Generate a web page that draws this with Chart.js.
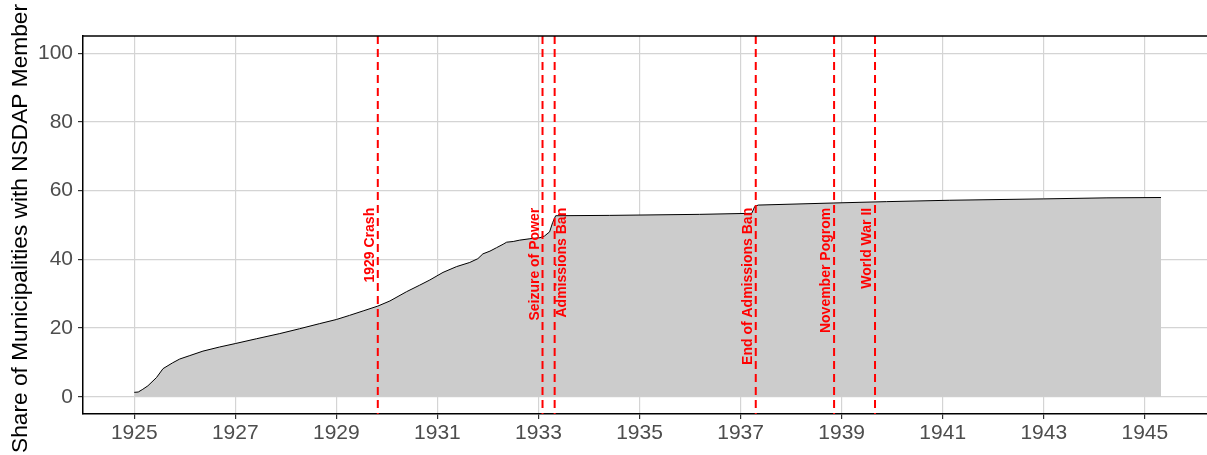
<!DOCTYPE html>
<html>
<head>
<meta charset="utf-8">
<script src="https://cdn.jsdelivr.net/npm/chart.js@4/dist/chart.umd.min.js"></script>
<style>
  body { margin: 0; background: #fff; }
  #wrap { width: 1207px; height: 455px; position: relative; }
</style>
</head>
<body>
<div id="wrap"><canvas id="chart"></canvas></div>
<script>
// share of municipalities with an NSDAP member
const years = [1925.00, 1925.08, 1925.17, 1925.27, 1925.44, 1925.57, 1925.76, 1925.90,
  1926.10, 1926.36, 1926.69, 1927.00, 1927.42, 1927.88, 1928.27, 1928.67, 1929.00,
  1929.26, 1929.53, 1929.82, 1930.06, 1930.39, 1930.65, 1930.85, 1931.11, 1931.38,
  1931.64, 1931.80, 1931.90, 1932.04, 1932.17, 1932.30, 1932.37, 1932.50, 1932.63,
  1932.83, 1933.03, 1933.12, 1933.22, 1933.28, 1933.34, 1934.41, 1936.19, 1937.22,
  1937.28, 1937.35, 1938.83, 1939.89, 1941.14, 1943.00, 1944.25, 1945.32];
const shares = [1.3, 1.4, 2.2, 3.2, 5.6, 8.2, 9.9, 11.0,
  12.0, 13.3, 14.5, 15.5, 16.9, 18.4, 19.8, 21.3, 22.5,
  23.7, 25.0, 26.4, 27.9, 30.6, 32.5, 34.0, 36.2, 37.9,
  39.1, 40.2, 41.6, 42.4, 43.4, 44.4, 45.0, 45.2, 45.6,
  46.0, 46.3, 46.8, 48.0, 50.7, 52.7, 52.8, 53.1, 53.4,
  55.4, 55.8, 56.4, 56.8, 57.2, 57.6, 57.9, 58.0];

const eventDates = [1929.82, 1933.08, 1933.32, 1937.30, 1938.85, 1939.66];
const eventLabels = ["1929 Crash", "Seizure of Power", "Admissions Ban",
  "End of Admissions Ban", "November Pogrom", "World War II"];
const eventLabelTop = 55;     // data value where the rotated labels end
const eventSide = [-1, -1, 1, -1, -1, -1];  // label left (-1) or right (1) of its line

const xTicks = [1925, 1927, 1929, 1931, 1933, 1935, 1937, 1939, 1941, 1943, 1945];
const yTicks = [0, 20, 40, 60, 80, 100];
const yTitle = "Share of Municipalities with NSDAP Member";

const FONT = "'Liberation Sans', Arial, sans-serif";

const datasets = [{
  data: years.map((x, i) => ({ x: x, y: shares[i] })),
  fill: "origin",
  backgroundColor: "#cccccc",
  borderColor: "#000000",
  borderWidth: 1,
  pointRadius: 0,
  tension: 0,
  order: 2
}];

eventDates.forEach((d) => {
  datasets.push({
    data: [{ x: d, y: 105 }, { x: d, y: -5 }],
    borderColor: "#ff0000",
    borderWidth: 2,
    borderDash: [8, 5],
    pointRadius: 0,
    fill: false,
    order: 1
  });
});

// event labels, panel top edge and the y title
const annotations = {
  id: "annotations",
  afterDatasetsDraw(chart) {
    const ctx = chart.ctx;
    const xs = chart.scales.x;
    const ys = chart.scales.y;
    const area = chart.chartArea;

    ctx.save();
    ctx.strokeStyle = "#000";
    ctx.lineWidth = 1.5;
    ctx.beginPath();
    ctx.moveTo(area.left, area.top);
    ctx.lineTo(area.right, area.top);
    ctx.stroke();

    ctx.fillStyle = "#ff0000";
    ctx.font = "bold 14px " + FONT;
    ctx.textAlign = "right";
    ctx.textBaseline = "middle";
    eventDates.forEach((d, i) => {
      const px = xs.getPixelForValue(d) + eventSide[i] * 7.5;
      const py = ys.getPixelForValue(eventLabelTop);
      ctx.save();
      ctx.translate(px, py);
      ctx.rotate(-Math.PI / 2);
      ctx.fillText(eventLabels[i], 0, 0);
      ctx.restore();
    });

    ctx.fillStyle = "#000";
    ctx.font = "22.7px " + FONT;
    ctx.textAlign = "center";
    ctx.textBaseline = "middle";
    ctx.translate(21, 228.5);
    ctx.rotate(-Math.PI / 2);
    ctx.fillText(yTitle, 0, 0);
    ctx.restore();
  }
};

new Chart(document.getElementById("chart"), {
  type: "line",
  data: { datasets: datasets },
  plugins: [annotations],
  options: {
    responsive: true,
    maintainAspectRatio: false,
    animation: false,
    layout: { padding: { top: 36, right: 0, left: 0, bottom: 0 } },
    plugins: { legend: { display: false }, tooltip: { enabled: false } },
    scales: {
      x: {
        type: "linear",
        min: 1923.986,
        max: 1946.23,
        afterBuildTicks: (s) => { s.ticks = xTicks.map((v) => ({ value: v })); },
        afterFit: (s) => { s.height = 41; },
        ticks: {
          callback: (v) => String(v),
          color: "#4d4d4d",
          font: { size: 21, family: FONT },
          padding: 2,
          maxRotation: 0,
          autoSkip: false
        },
        grid: { color: "#d4d4d4", lineWidth: 1.2, tickColor: "#333333", tickLength: 5 },
        border: { color: "#000000", width: 1.5 }
      },
      y: {
        min: -5,
        max: 105,
        afterBuildTicks: (s) => { s.ticks = yTicks.map((v) => ({ value: v })); },
        afterFit: (s) => { s.width = 83; },
        ticks: {
          color: "#4d4d4d",
          font: { size: 21, family: FONT },
          padding: 5
        },
        grid: { color: "#d4d4d4", lineWidth: 1.2, tickColor: "#333333", tickLength: 5 },
        border: { color: "#000000", width: 1.5 }
      }
    }
  }
});
</script>
</body>
</html>
